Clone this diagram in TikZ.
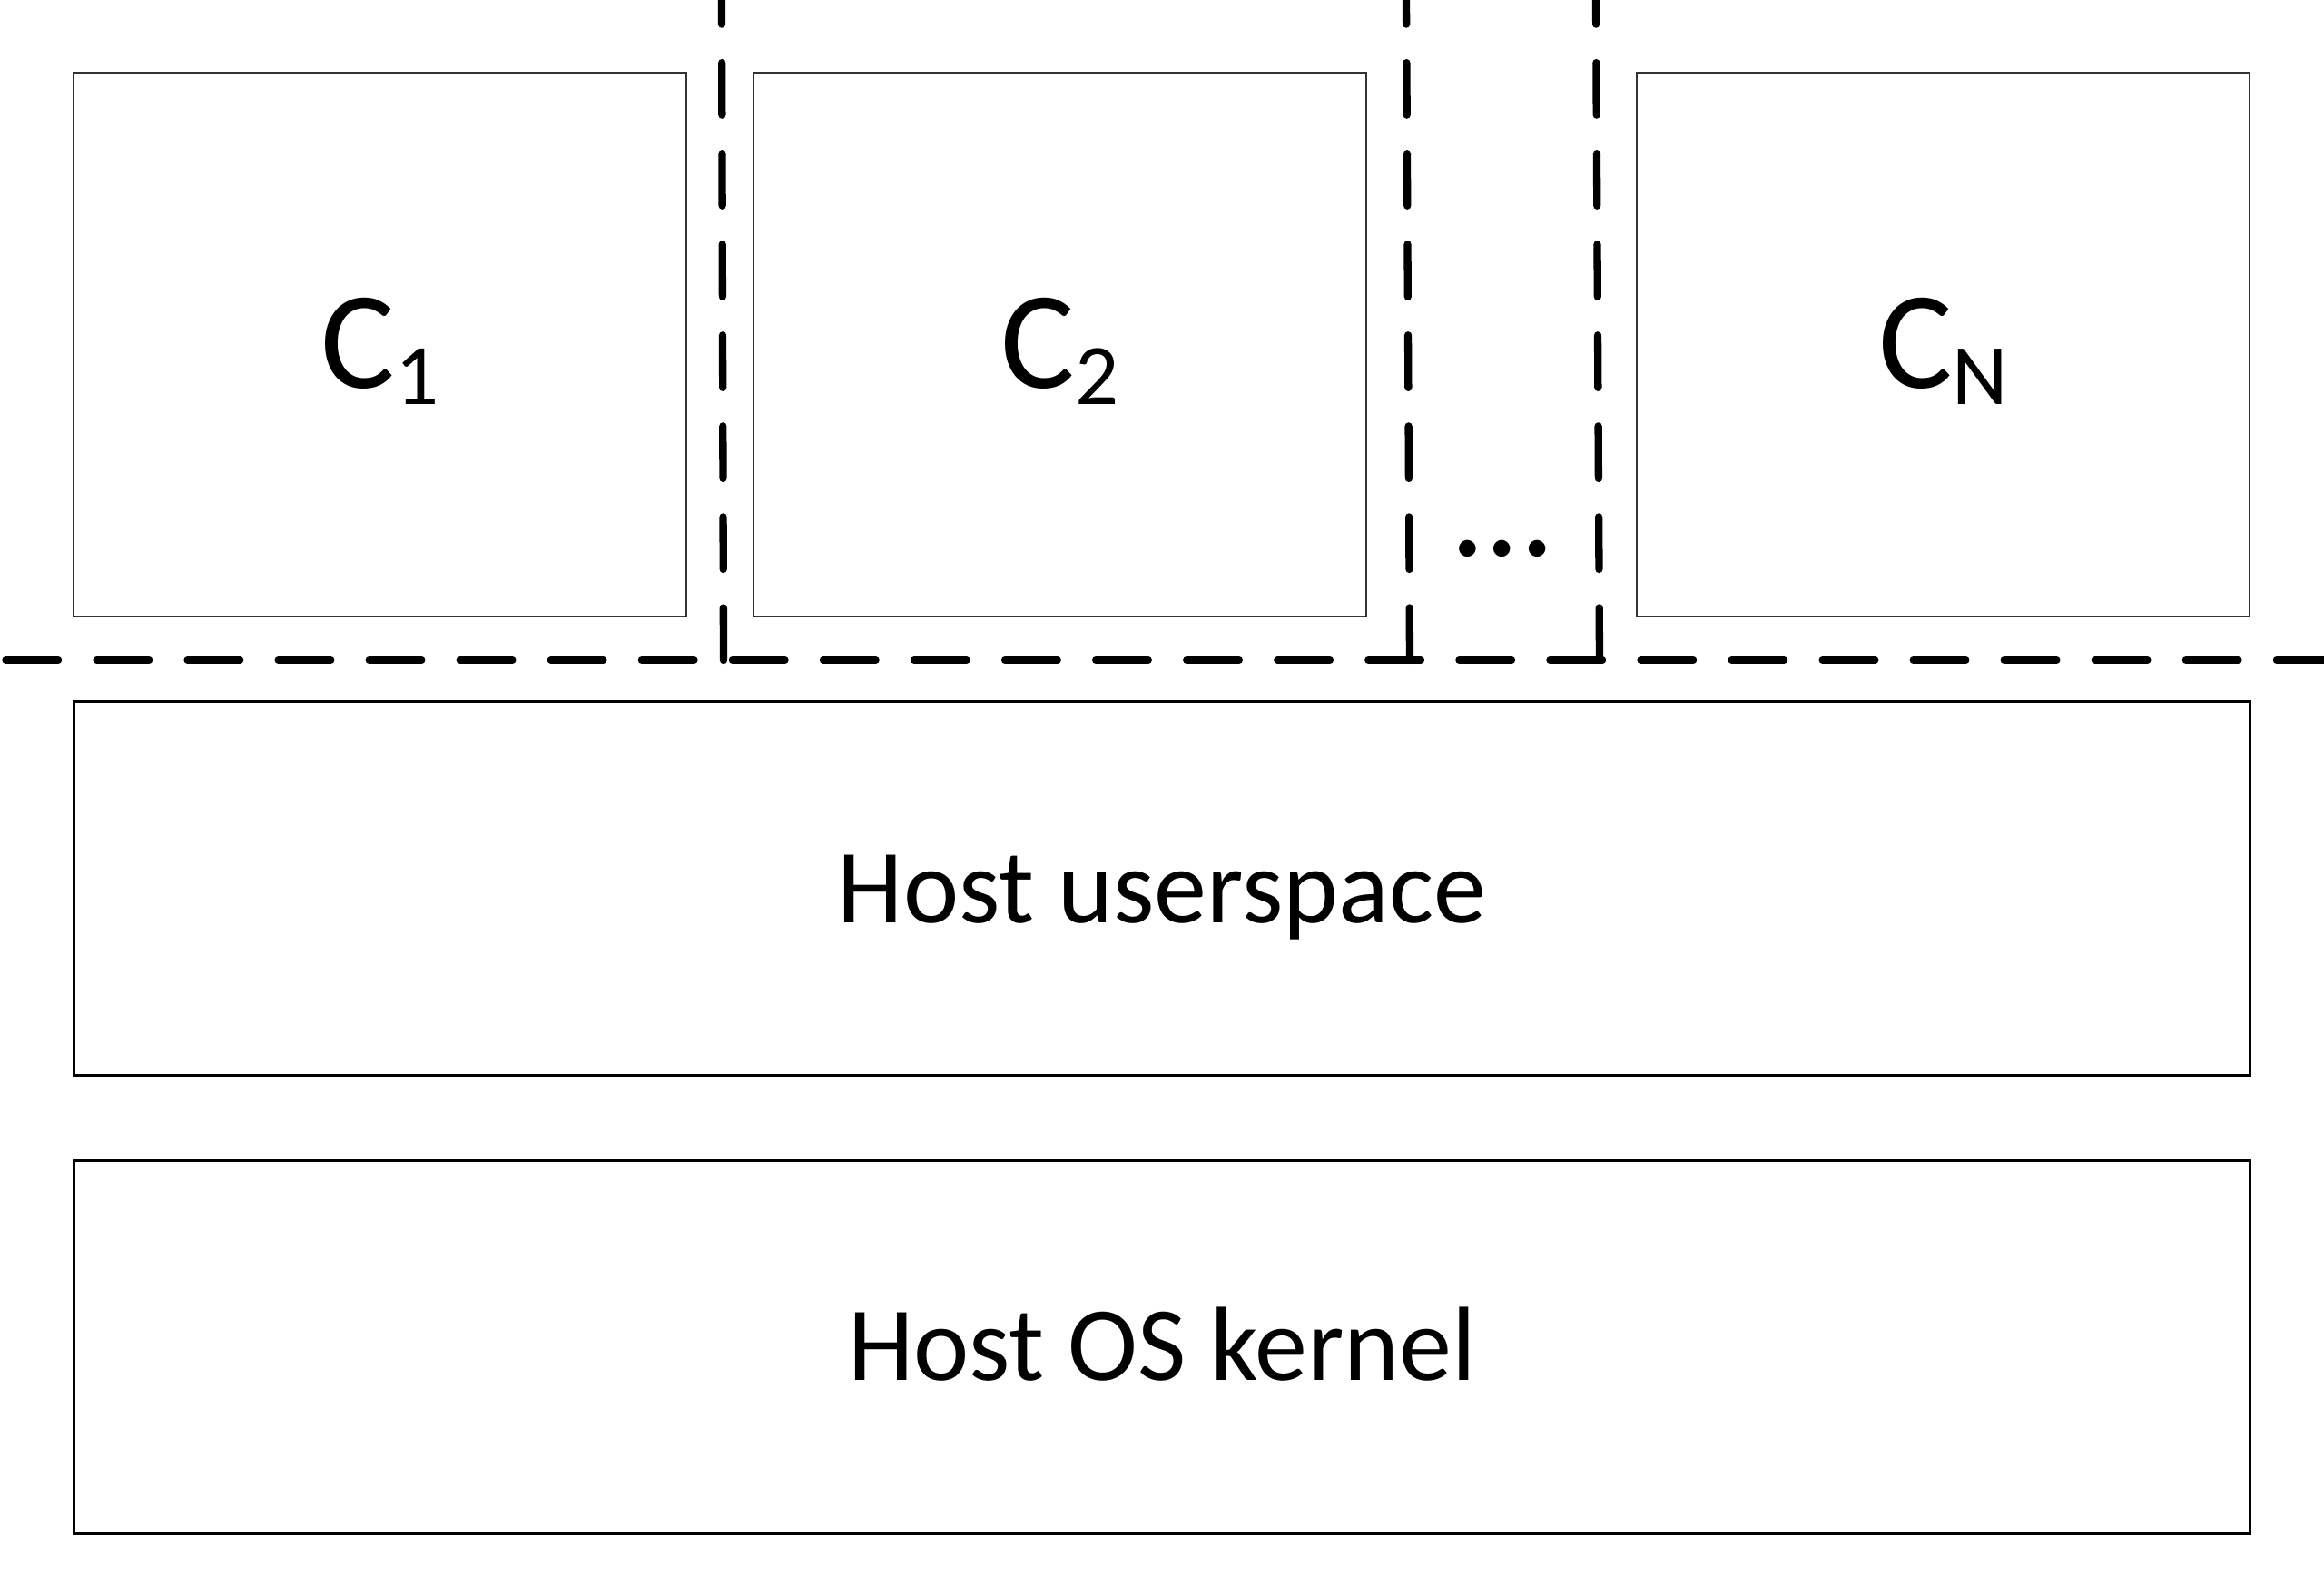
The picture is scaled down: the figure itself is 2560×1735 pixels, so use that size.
\documentclass[tikz,border=0pt]{standalone}
\usepackage{fontspec}
\setmainfont{Carlito}
\begin{document}
\begin{tikzpicture}[x=0.01cm,y=-0.01cm,
  cbox/.style={draw=black!80, line width=0.5pt, inner sep=0pt, minimum width=6.74cm, minimum height=5.99cm},
  hbox/.style={draw=black, line width=0.85pt, inner sep=0pt, minimum width=23.96cm, minimum height=4.11cm},
  clabel/.style={anchor=base, inner sep=0pt, font=\fontsize{43.5pt}{52pt}\selectfont},
  hlabel/.style={anchor=base, inner sep=0pt, font=\fontsize{33pt}{40pt}\selectfont},
  dashline/.style={line width=0.083cm, line cap=round, dash pattern=on 0.575cm off 0.425cm}]
\useasboundingbox (0,0) rectangle (2560,1735);
\newcommand{\subtxt}[1]{\raisebox{-0.18cm}{\fontsize{27pt}{32pt}\selectfont #1}}
% container boxes
\node[cbox] (c1) at (418.5,379.5) {};
\node[cbox] (c2) at (1167.5,379.5) {};
\node[cbox] (cn) at (2140.5,379.5) {};
% host boxes
\node[hbox] (us) at (1280,978.5) {};
\node[hbox] (kn) at (1280,1484) {};
% labels
\node[clabel] (l1) at (418.5,427) {C\subtxt{1}};
\node[clabel] (l2) at (1167.5,427) {C\subtxt{2}};
\node[clabel] (ln) at (2140.5,427) {C\subtxt{N}};
\node[clabel] (dots) at (1655,612) {…};
\node[hlabel] (lus) at (1280,1016) {Host userspace};
\node[hlabel] (lkn) at (1280,1520) {Host OS kernel};
% dashed separators
\coordinate (hl) at (6.5,727);
\coordinate (hr) at (2560,727);
\coordinate (v1b) at (797,727);
\coordinate (v1t) at (795,0);
\coordinate (v2b) at (1553,727);
\coordinate (v2t) at (1549,0);
\coordinate (v3b) at (1762,727);
\coordinate (v3t) at (1758,0);
\draw[dashline] (hl) -- (hr);
\draw[dashline] (v1b) -- (v1t);
\draw[dashline] (v2b) -- (v2t);
\draw[dashline] (v3b) -- (v3t);
\end{tikzpicture}
\end{document}
